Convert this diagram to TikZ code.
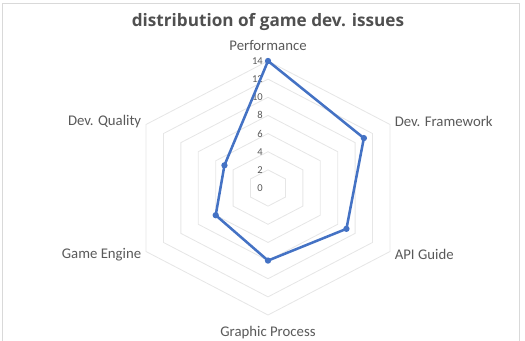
\documentclass[tikz,border=0pt]{standalone}
\usepackage{fontspec}
\setmainfont{Carlito}
\newfontfamily\titlefont{Open Sans}
\usepackage{tikz}
\usetikzlibrary{positioning, calc}
\definecolor{seriesblue}{RGB}{68,114,196}
\definecolor{gridgray}{RGB}{230,230,230}
\definecolor{framegray}{RGB}{217,217,217}
\definecolor{labelgray}{RGB}{89,89,89}
\definecolor{titlegray}{RGB}{80,80,80}
\tikzset{
  ring/.style={draw=gridgray, line width=0.6pt},
  series/.style={draw=seriesblue, line width=1.8pt, line join=round},
  marker/.style={circle, fill=seriesblue, inner sep=0pt, minimum size=4.5pt},
  catlabel/.style={font=\fontsize{10.5}{12}\selectfont, text=labelgray, inner sep=0pt},
  ticklabel/.style={font=\fontsize{7.5}{9}\selectfont, text=labelgray, inner sep=0pt, anchor=east},
  charttitle/.style={font=\titlefont\bfseries\fontsize{12.2}{15}\selectfont, text=titlegray, inner sep=0pt}
}

\begin{document}
\begin{tikzpicture}[x=0.025cm, y=-0.025cm]
  \useasboundingbox (0,0) rectangle (525,341);

  % Chart frame
  \draw[framegray, line width=0.5pt] (2,345) -- (2,3) -- (519,3) -- (519,345);

  % Title
  \node[charttitle] (title) at (268,22) {distribution of game dev. issues};

  \begin{scope}[shift={(268,188)}, x=0.2515cm, y=0.22675cm]
    % Grid rings
    \foreach \r in {2,4,...,14}
      \draw[ring] (90:\r) \foreach \a in {30,-30,-90,-150,150} { -- (\a:\r) } -- cycle;

    % Axis values
    \foreach \v in {0,2,...,14}
      \node[ticklabel] (tick\v) at ($(90:\v)+(-0.5,0)$) {\v};

    % Data points
    \coordinate (perf) at (90:14);
    \coordinate (frame) at (30:11);
    \coordinate (api) at (-30:9);
    \coordinate (graph) at (-90:8);
    \coordinate (engine) at (-150:6);
    \coordinate (quality) at (150:5);

    \draw[series] (perf) -- (frame) -- (api) -- (graph) -- (engine) -- (quality) -- cycle;
    \foreach \p in {perf,frame,api,graph,engine,quality}
      \node[marker] at (\p) {};

    % Category labels
    \node[catlabel, anchor=south] (lperf) at (90:15.1) {Performance};
    \node[catlabel, anchor=west] (lframe) at ($(30:14)+(0.45,0.3)$) {Dev. Framework};
    \node[catlabel, anchor=west] (lapi) at ($(-30:14)+(0.45,-0.3)$) {API Guide};
    \node[catlabel, anchor=north] (lgraph) at (-90:15.2) {Graphic Process};
    \node[catlabel, anchor=east] (lengine) at ($(-150:14)+(-0.45,-0.3)$) {Game Engine};
    \node[catlabel, anchor=east] (lquality) at ($(150:14)+(-0.45,0.3)$) {Dev. Quality};
  \end{scope}
\end{tikzpicture}
\end{document}
